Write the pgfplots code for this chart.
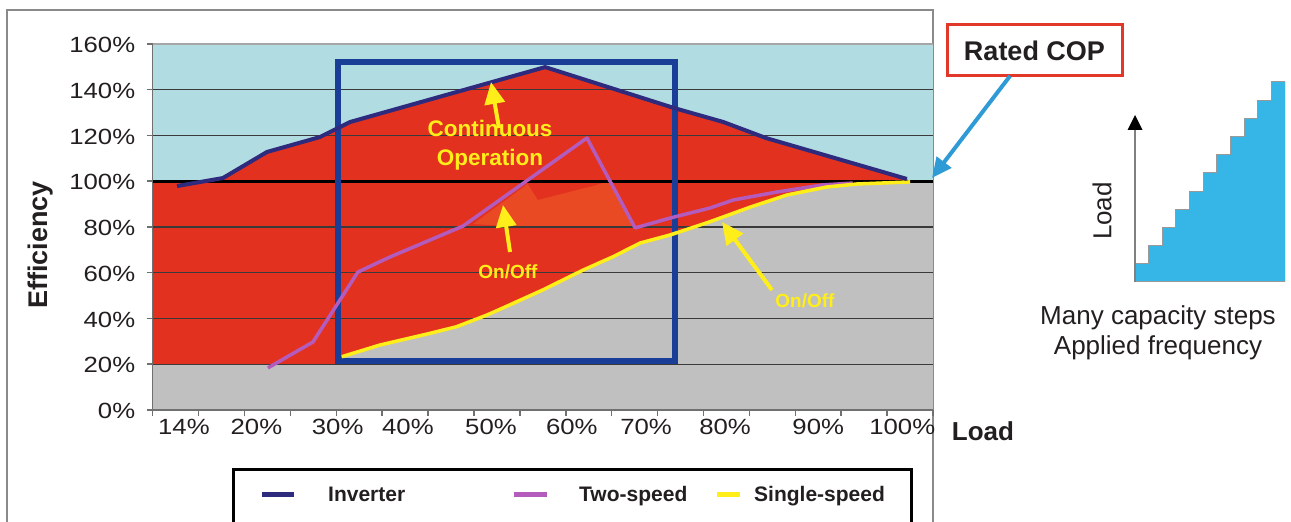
\documentclass[border=0pt]{standalone}
\usepackage{pgfplots}
\pgfplotsset{compat=1.18}
\usepackage{fontspec}
\setmainfont{Liberation Sans}
\newfontfamily\tickfont{Liberation Sans}[FakeStretch=1.17]
\usetikzlibrary{arrows.meta}
\definecolor{skyc}{HTML}{B0DCE2}
\definecolor{redc}{HTML}{E3311F}
\definecolor{orac}{HTML}{E94A23}
\definecolor{grayc}{HTML}{C0C0C0}
\definecolor{navyc}{HTML}{2E2A7E}
\definecolor{purpc}{HTML}{B45CBE}
\definecolor{yelc}{HTML}{FFEE1A}
\definecolor{boxc}{HTML}{1A3D98}
\definecolor{gridc}{HTML}{3A3A3A}
\definecolor{axc}{HTML}{707070}
\definecolor{txtc}{HTML}{231F20}
\definecolor{ratedc}{HTML}{E2382A}
\definecolor{arrc}{HTML}{2E9BD6}
\definecolor{stairc}{HTML}{35B6E6}
\definecolor{framec}{HTML}{8A8A8A}
\begin{document}
\begin{tikzpicture}[x=1pt,y=1pt]
\useasboundingbox (0,0) rectangle (1291,522);
\draw[framec, line width=1.5pt] (7,-5) -- (7,512) -- (933,512) -- (933,-5);
\begin{axis}[
  at={(152.7pt,112pt)}, anchor=south west, scale only axis,
  width=780.3pt, height=366pt,
  xmin=0, xmax=17, ymin=0, ymax=160,
  axis on top,
  axis x line*=bottom, axis y line*=left,
  axis line style={-, draw=axc, line width=1.5pt},
  tick align=outside, major tick length=6pt,
  tick style={draw=axc, line width=1.5pt},
  ytick={0,20,...,160},
  yticklabels={0\%,20\%,40\%,60\%,80\%,100\%,120\%,140\%,160\%},
  xtick={0.68,2.26,4.03,5.56,7.37,9.13,10.75,12.47,14.50,16.33},
  xticklabels={14\%,20\%,30\%,40\%,50\%,60\%,70\%,80\%,90\%,100\%},
  xtick style={draw=none},
  extra x ticks={0,1,...,17},
  extra x tick labels={},
  extra x tick style={xtick style={draw=axc, line width=1.5pt}},
  ticklabel style={font=\tickfont\fontsize{22}{22}\selectfont, text=txtc},
  yticklabel style={xshift=-8pt, yshift=-1pt},
]
% background bands
\addplot[fill=skyc, draw=none] coordinates {(0,100)(17,100)(17,160)(0,160)} -- cycle;
\addplot[fill=grayc, draw=none] coordinates {(0,0)(17,0)(17,100)(0,100)} -- cycle;
% red operating region
\addplot[fill=redc, draw=none] coordinates {
 (0,20)(0,100)(1.13,100)(1.53,101.4)(2.49,112.8)(3.64,119.3)(4.30,125.9)(8.55,149.9)
 (11.36,132.0)(12.43,125.9)(13.36,118.9)(16.43,101.0)(16.5,99.7)
 (15.34,98.8)(14.69,97.5)(13.82,94.0)(13.02,88.7)(12.14,82.3)(11.27,76.5)(10.62,73.0)
 (10.03,67.0)(9.38,61.2)(8.50,52.5)(7.63,44.6)(7.28,41.5)(6.62,36.4)(6.04,33.5)
 (4.95,28.4)(4.12,23.3)(4.12,20)} -- cycle;
% lighter block arrow
\addplot[fill=orac, draw=none] coordinates {
 (6.98,81.3)(8.17,98.8)(8.39,91.8)(9.68,98.4)(9.92,100.1)(10.46,80.0)(8.88,80.4)(7.57,80.6)} -- cycle;
% grid
\pgfplotsinvokeforeach{20,40,60,80,120,140}{
  \draw[gridc, line width=1.4pt] (axis cs:0,#1) -- (axis cs:17,#1);
}
\draw[gray!70, line width=1.2pt] (axis cs:0,160) -- (axis cs:17,160);
\draw[black, line width=3pt] (axis cs:0,100) -- (axis cs:17,100);
% highlighted box
\draw[boxc, line width=6pt] (axis cs:4.04,152.3) rectangle (axis cs:11.37,21.4);
% series
\addplot[purpc, line width=3.5pt, line join=round] coordinates {
 (2.51,18.4)(3.49,29.7)(4.47,60.3)(5.17,66.9)(6.76,80.4)(9.46,118.9)(10.51,79.6)
 (11.27,83.9)(12.14,88.3)(12.65,91.8)(13.60,95.3)(14.60,98.4)(15.25,99.2)};
\addplot[yelc, line width=3.5pt, line join=round] coordinates {
 (4.12,23.3)(4.95,28.4)(6.04,33.5)(6.62,36.4)(7.28,41.5)(7.63,44.6)(8.50,52.5)
 (9.38,61.2)(10.03,67.0)(10.62,73.0)(11.27,76.5)(12.14,82.3)(13.02,88.7)(13.82,94.0)
 (14.69,97.5)(15.34,98.8)(16.5,99.7)};
\addplot[navyc, line width=4pt, line join=round] coordinates {
 (0.53,97.9)(1.53,101.4)(2.49,112.8)(3.64,119.3)(4.30,125.9)(8.55,149.9)
 (11.36,132.0)(12.43,125.9)(13.36,118.9)(16.43,101.0)};
\end{axis}
% staircase
\begin{axis}[at={(1135pt,240pt)}, anchor=south west, scale only axis,
  width=150pt, height=200pt, xmin=0, xmax=11, ymin=0, ymax=11, hide axis]
\addplot[const plot, fill=stairc, draw=gray!80, line width=1pt] coordinates {
 (0,1)(1,2)(2,3)(3,4)(4,5)(5,6)(6,7)(7,8)(8,9)(9,10)(10,11)(11,11)} \closedcycle;
\end{axis}
\draw[gray, line width=1.5pt] (1135,240) -- (1135,394);
\fill[black] (1135,407) -- (1127.5,392) -- (1142.5,392) -- cycle;
\node[rotate=90, font=\fontsize{26}{26}\selectfont, text=txtc] at (1102,311) {Load};
\node[font=\fontsize{26}{30}\selectfont, text=txtc, align=center] at (1158,189) {Many capacity steps\\Applied frequency};
% rated COP
\draw[ratedc, line width=3pt, fill=white] (947,446) rectangle (1122,497);
\node[font=\bfseries\fontsize{27}{27}\selectfont, text=txtc] at (1034.5,471.5) {Rated COP};
\draw[arrc, line width=4pt, -{Triangle[width=18pt,length=20pt]}] (1010,446) -- (932,344);
% annotations
\node[font=\bfseries\fontsize{22.5}{29}\selectfont, text=yelc, align=center] at (490,376.5) {Continuous\\Operation};
\draw[yelc, line width=4pt, -{Triangle[width=20pt,length=22pt]}] (499,394) -- (491,440);
\node[font=\bfseries\fontsize{19}{19}\selectfont, text=yelc] at (508,250) {On/Off};
\draw[yelc, line width=4pt, -{Triangle[width=20pt,length=22pt]}] (510,270) -- (503,317);
\node[font=\bfseries\fontsize{19}{19}\selectfont, text=yelc] at (805,221) {On/Off};
\draw[yelc, line width=4pt, -{Triangle[width=20pt,length=22pt]}] (772,232) -- (722,300);
% axis titles
\node[rotate=90, font=\bfseries\fontsize{27}{27}\selectfont, text=txtc] at (41,277) {Efficiency};
\node[font=\bfseries\fontsize{26}{26}\selectfont, text=txtc] at (983,91) {Load};
% legend
\draw[black, line width=3pt, fill=white] (233,-10) rectangle (911,52);
\draw[navyc, line width=5pt] (262,27) -- (294,27);
\node[anchor=base west, font=\bfseries\fontsize{21}{21}\selectfont, text=txtc, inner sep=0pt] at (328,20.5) {Inverter};
\draw[purpc, line width=5pt] (514,27) -- (547,27);
\node[anchor=base west, font=\bfseries\fontsize{21}{21}\selectfont, text=txtc, inner sep=0pt] at (579,20.5) {Two-speed};
\draw[yelc, line width=5pt] (717,27) -- (740,27);
\node[anchor=base west, font=\bfseries\fontsize{21}{21}\selectfont, text=txtc, inner sep=0pt] at (754,20.5) {Single-speed};
\end{tikzpicture}
\end{document}
